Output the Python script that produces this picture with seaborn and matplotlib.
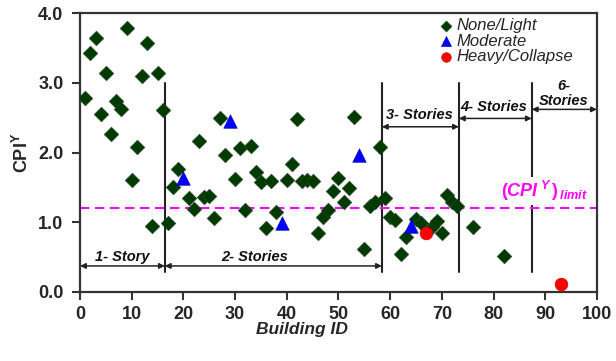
import matplotlib
matplotlib.use("Agg")
import matplotlib.pyplot as plt
import seaborn as sns
import pandas as pd

# ---------------- data ----------------
none_id = [1, 2, 3, 4, 5, 6, 7, 8, 9, 10, 11, 12, 13, 14, 15, 16, 17,
           18, 19, 21, 22, 23, 24, 25, 26, 27, 28, 30, 31, 32, 33, 34, 35, 36, 37, 38,
           40, 41, 42, 43, 44, 45, 46, 47, 48, 49, 50, 51, 52, 53, 55, 56, 57, 58, 59,
           60, 61, 62, 63, 65, 66, 68, 69, 70, 71, 72, 73, 76, 82]
none_cpi = [2.78, 3.43, 3.64, 2.56, 3.15, 2.27, 2.74, 2.62, 3.79, 1.60, 2.08, 3.10, 3.57, 0.94, 3.15, 2.61, 0.99,
            1.50, 1.76, 1.34, 1.19, 2.17, 1.36, 1.37, 1.06, 2.49, 1.96, 1.62, 2.06, 1.17, 2.10, 1.72, 1.57, 0.92, 1.59, 1.14,
            1.61, 1.84, 2.48, 1.59, 1.60, 1.59, 0.84, 1.07, 1.18, 1.44, 1.64, 1.29, 1.49, 2.51, 0.62, 1.23, 1.29, 2.08, 1.34,
            1.08, 1.03, 0.54, 0.78, 1.05, 0.98, 0.93, 1.01, 0.84, 1.39, 1.29, 1.23, 0.93, 0.52]
mod_id = [20, 29, 39, 54, 64]
mod_cpi = [1.63, 2.46, 0.98, 1.96, 0.94]
heavy_id = [67, 93]
heavy_cpi = [0.85, 0.11]

cpi_limit = 1.2
story_bounds = [16.4, 58.4, 73.3, 87.4]
story_labels = ["1- Story", "2- Stories", "3- Stories", "4- Stories", "6-\nStories"]
x_ticks = list(range(0, 101, 10))
y_ticks = [0.0, 1.0, 2.0, 3.0, 4.0]

# ---------------- style ----------------
sns.set_style("ticks")
plt.rcParams["font.family"] = ["Liberation Sans", "DejaVu Sans"]
plt.rcParams["mathtext.fontset"] = "custom"
plt.rcParams["mathtext.rm"] = "Liberation Sans:bold"
plt.rcParams["mathtext.it"] = "Liberation Sans:bold:italic"
plt.rcParams["mathtext.bf"] = "Liberation Sans:bold"

fig = plt.figure(figsize=(6.16, 3.61), dpi=100)
ax = fig.add_axes([0.13, 0.192, 0.839, 0.771])

df_none = pd.DataFrame({"id": none_id, "cpi": none_cpi})
df_mod = pd.DataFrame({"id": mod_id, "cpi": mod_cpi})
df_heavy = pd.DataFrame({"id": heavy_id, "cpi": heavy_cpi})

green = "#003a00"
sns.scatterplot(data=df_none, x="id", y="cpi", marker="D", s=56, color=green,
                edgecolor="#2a4a2a", linewidth=0.4, ax=ax, zorder=3, label="None/Light")
sns.scatterplot(data=df_mod, x="id", y="cpi", marker="^", s=95, color="#0000ff",
                edgecolor="#0000aa", linewidth=0.4, ax=ax, zorder=3, label="Moderate")
sns.scatterplot(data=df_heavy, x="id", y="cpi", marker="o", s=85, color="#ff0000",
                edgecolor="#cc0000", linewidth=0.4, ax=ax, zorder=3, label="Heavy/Collapse")

# limit line
ax.axhline(cpi_limit, color="#ff00ff", lw=1.5, dashes=(4.5, 2.7), zorder=2)

# story boundaries
for xb in story_bounds:
    ax.plot([xb, xb], [0.28, 3.0], color="#222222", lw=1.5, zorder=1)

arrow_kw = dict(arrowstyle="<|-|>", lw=1.1, color="#222222", mutation_scale=8,
                shrinkA=0, shrinkB=0)
spans = [(0, story_bounds[0], 0.37), (story_bounds[0], story_bounds[1], 0.37),
         (story_bounds[1], story_bounds[2], 2.37), (story_bounds[2], story_bounds[3], 2.49),
         (story_bounds[3], 100, 2.62)]
for (x0, x1, yy) in spans:
    ax.annotate("", xy=(x0, yy), xytext=(x1, yy), arrowprops=arrow_kw, zorder=2)

label_pos = [(8.2, 0.50), (33.8, 0.50), (65.7, 2.54), (80.0, 2.66), (93.6, 2.85)]
for txt, (lx, ly) in zip(story_labels, label_pos):
    ax.text(lx, ly, txt, ha="center", va="center", fontsize=10.5, fontweight="bold",
            fontstyle="italic", color="#111111", linespacing=1.15)

ax.text(89.9, 1.45, r"$(CPI^{\,Y}\,)_{\,limit}$", ha="center", va="center",
        fontsize=13, color="#ff00ff",
        bbox=dict(facecolor="white", edgecolor="none", pad=1.5), zorder=4)

ax.set_xlim(0, 100)
ax.set_ylim(0, 4)
ax.set_xticks(x_ticks)
ax.set_yticks(y_ticks)
ax.set_yticklabels([f"{v:.1f}" for v in y_ticks])
ax.tick_params(axis="both", direction="out", length=6, width=1.5, color="#333333",
               labelsize=13)
ax.tick_params(axis="y", pad=6)
ax.tick_params(axis="x", pad=4)
for lab in ax.get_xticklabels() + ax.get_yticklabels():
    lab.set_fontweight("bold")
for sp in ax.spines.values():
    sp.set_visible(True)
    sp.set_linewidth(1.6)
    sp.set_color("#333333")

ax.set_xlabel("Building ID", fontsize=12.5, fontweight="bold", fontstyle="italic",
              labelpad=4)
ax.xaxis.set_label_coords(0.43, -0.11)
ax.set_ylabel(r"$\mathrm{CPI}^{\mathrm{Y}}$", fontsize=13, labelpad=4)

leg = ax.legend(loc="upper left", bbox_to_anchor=(0.67, 1.025), frameon=False,
                prop=dict(size=12, style="italic"), handletextpad=0.1,
                labelspacing=0.04, borderpad=0.2, markerscale=0.75, handlelength=1.0)

fig.savefig("out.png", dpi=100)
